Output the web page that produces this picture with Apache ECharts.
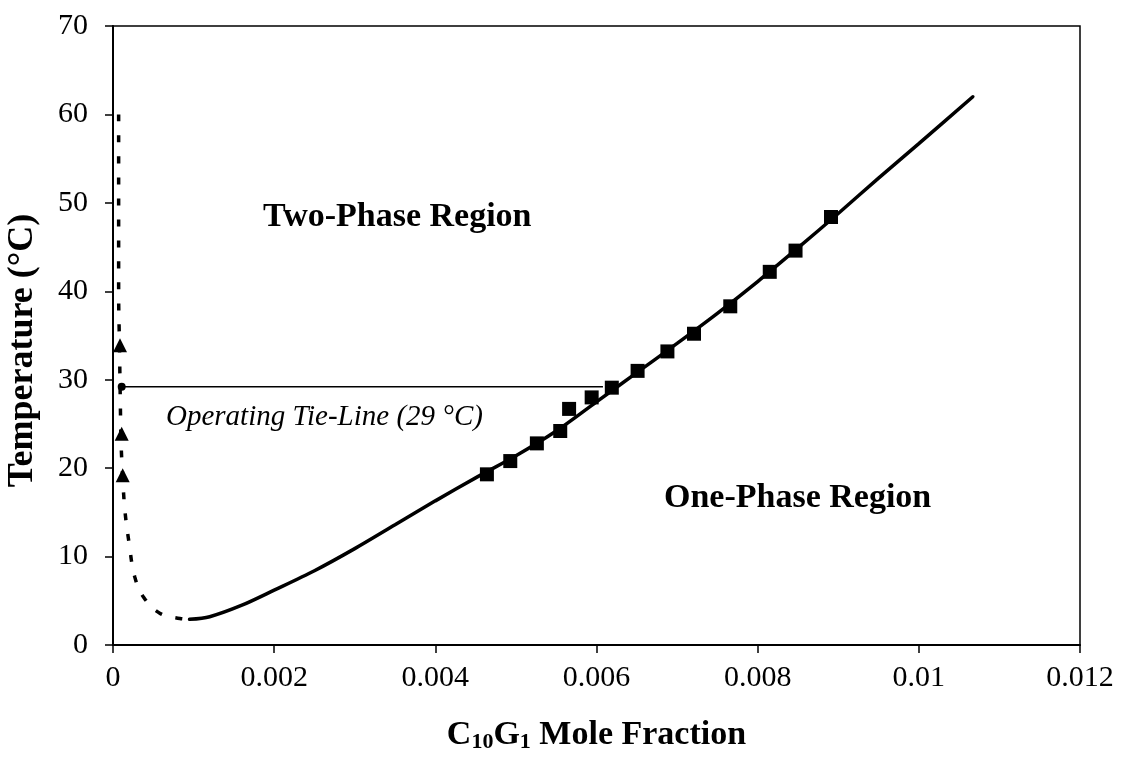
<!DOCTYPE html>
<html>
<head>
<meta charset="utf-8">
<script src="https://cdn.jsdelivr.net/npm/echarts@6/dist/echarts.min.js"></script>
<style>
  html, body { margin: 0; padding: 0; background: #fff; }
  #chart { width: 1122px; height: 764px; }
</style>
</head>
<body>
<div id="chart"></div>
<script>
// measured data points (squares)
const measuredX = [0.00464, 0.00493, 0.00526, 0.00555, 0.00566, 0.00594, 0.00619, 0.00651, 0.00688, 0.00721, 0.00766, 0.00815, 0.00847, 0.00891];
const measuredY = [19.3, 20.8, 22.8, 24.2, 26.7, 28.0, 29.1, 31.0, 33.2, 35.2, 38.3, 42.2, 44.6, 48.4];
// one-phase boundary, solid part
const solidX = [0.00095, 0.0012, 0.0016, 0.002, 0.0025, 0.003, 0.0035, 0.004, 0.0045, 0.005, 0.0055, 0.006, 0.0065, 0.007, 0.0075, 0.008, 0.0085, 0.009, 0.0095, 0.01, 0.01067];
const solidY = [2.9, 3.2, 4.5, 6.2, 8.4, 10.9, 13.6, 16.3, 18.9, 21.4, 24.2, 27.5, 30.8, 34.1, 37.5, 41.1, 44.9, 48.8, 52.8, 56.7, 62.0];
// dotted part (boundary near zero)
const dottedX = [0.00007, 0.00007, 0.00007, 0.00008, 0.00009, 0.0001, 0.00012, 0.00015, 0.0002, 0.00027, 0.00038, 0.00058, 0.00083, 0.00095];
const dottedY = [60, 50, 40, 34, 28, 23, 19, 15, 11.5, 7.7, 5.4, 3.6, 3.0, 2.9];
// triangles
const triX = [0.000087, 0.000108, 0.00012];
const triY = [33.9, 23.9, 19.2];
// operating tie-line
const tieX = [0.000108, 0.00608];
const tieY = [29.2, 29.2];

const xTicks = [0, 0.002, 0.004, 0.006, 0.008, 0.01, 0.012];

const zip = (a, b) => a.map((v, i) => [v, b[i]]);
const font = "'Liberation Serif', 'Times New Roman', serif";

const chart = echarts.init(document.getElementById('chart'));
chart.setOption({
  backgroundColor: '#fff',
  animation: false,
  textStyle: { fontFamily: font, color: '#000' },
  grid: {
    left: 113, right: 42, top: 26, bottom: 119,
    outerBoundsMode: 'none',
    show: true, borderColor: '#000', borderWidth: 1.5
  },
  xAxis: {
    type: 'value', min: 0, max: 0.012, interval: 0.002,
    axisLine: { show: true, lineStyle: { color: '#000', width: 2 } },
    axisTick: { show: true, length: 8, lineStyle: { color: '#000', width: 1.5 } },
    splitLine: { show: false },
    axisLabel: {
      color: '#000', fontSize: 30, fontFamily: font, margin: 18,
      formatter: v => xTicks.includes(+v.toFixed(3)) ? String(+v.toFixed(3)) : ''
    },
    name: '{b|C}{s|10}{b|G}{s|1}{b| Mole Fraction}',
    nameLocation: 'middle', nameGap: 72,
    nameTextStyle: {
      rich: {
        b: { fontSize: 34, fontWeight: 'bold', fontFamily: font, color: '#000' },
        s: { fontSize: 22, fontWeight: 'bold', fontFamily: font, color: '#000', verticalAlign: 'bottom', padding: [14, 0, 0, 0] }
      }
    }
  },
  yAxis: {
    type: 'value', min: 0, max: 70, interval: 10,
    axisLine: { show: true, lineStyle: { color: '#000', width: 2 } },
    axisTick: { show: true, length: 8, lineStyle: { color: '#000', width: 1.5 } },
    splitLine: { show: false },
    axisLabel: { color: '#000', fontSize: 30, fontFamily: font, margin: 25 },
    name: 'Temperature (°C)',
    nameLocation: 'middle', nameGap: 72,
    nameTextStyle: { fontSize: 36, fontWeight: 'bold', fontFamily: font, color: '#000', padding: [0, 30, 0, 0] }
  },
  graphic: [
    { type: 'text', left: 263, top: 200, style: { text: 'Two-Phase Region', font: 'bold 34px ' + font, fill: '#000' } },
    { type: 'text', left: 664, top: 481, style: { text: 'One-Phase Region', font: 'bold 34px ' + font, fill: '#000' } },
    { type: 'text', left: 166, top: 403, style: { text: 'Operating Tie-Line (29 °C)', font: 'italic 29px ' + font, fill: '#000' } }
  ],
  series: [
    {
      name: 'tie', type: 'line', data: zip(tieX, tieY),
      showSymbol: false,
      lineStyle: { color: '#000', width: 1.5 }, z: 2
    },
    {
      name: 'tieDot', type: 'scatter', data: [zip(tieX, tieY)[0]],
      symbol: 'circle', symbolSize: 8, itemStyle: { color: '#000', opacity: 1 }, z: 3
    },
    {
      name: 'dotted', type: 'line', data: zip(dottedX, dottedY),
      smooth: 0.4, showSymbol: false,
      lineStyle: { color: '#000', width: 3.5, type: [7, 14], cap: 'butt' }, z: 2
    },
    {
      name: 'solid', type: 'line', data: zip(solidX, solidY),
      smooth: 0.3, showSymbol: false,
      lineStyle: { color: '#000', width: 3.5, cap: 'round' }, z: 2
    },
    {
      name: 'measured', type: 'scatter', data: zip(measuredX, measuredY),
      symbol: 'rect', symbolSize: 14, itemStyle: { color: '#000', opacity: 1 }, z: 4
    },
    {
      name: 'triangles', type: 'scatter', data: zip(triX, triY),
      symbol: 'triangle', symbolSize: 14, itemStyle: { color: '#000', opacity: 1 }, z: 4
    }
  ]
});
</script>
</body>
</html>
